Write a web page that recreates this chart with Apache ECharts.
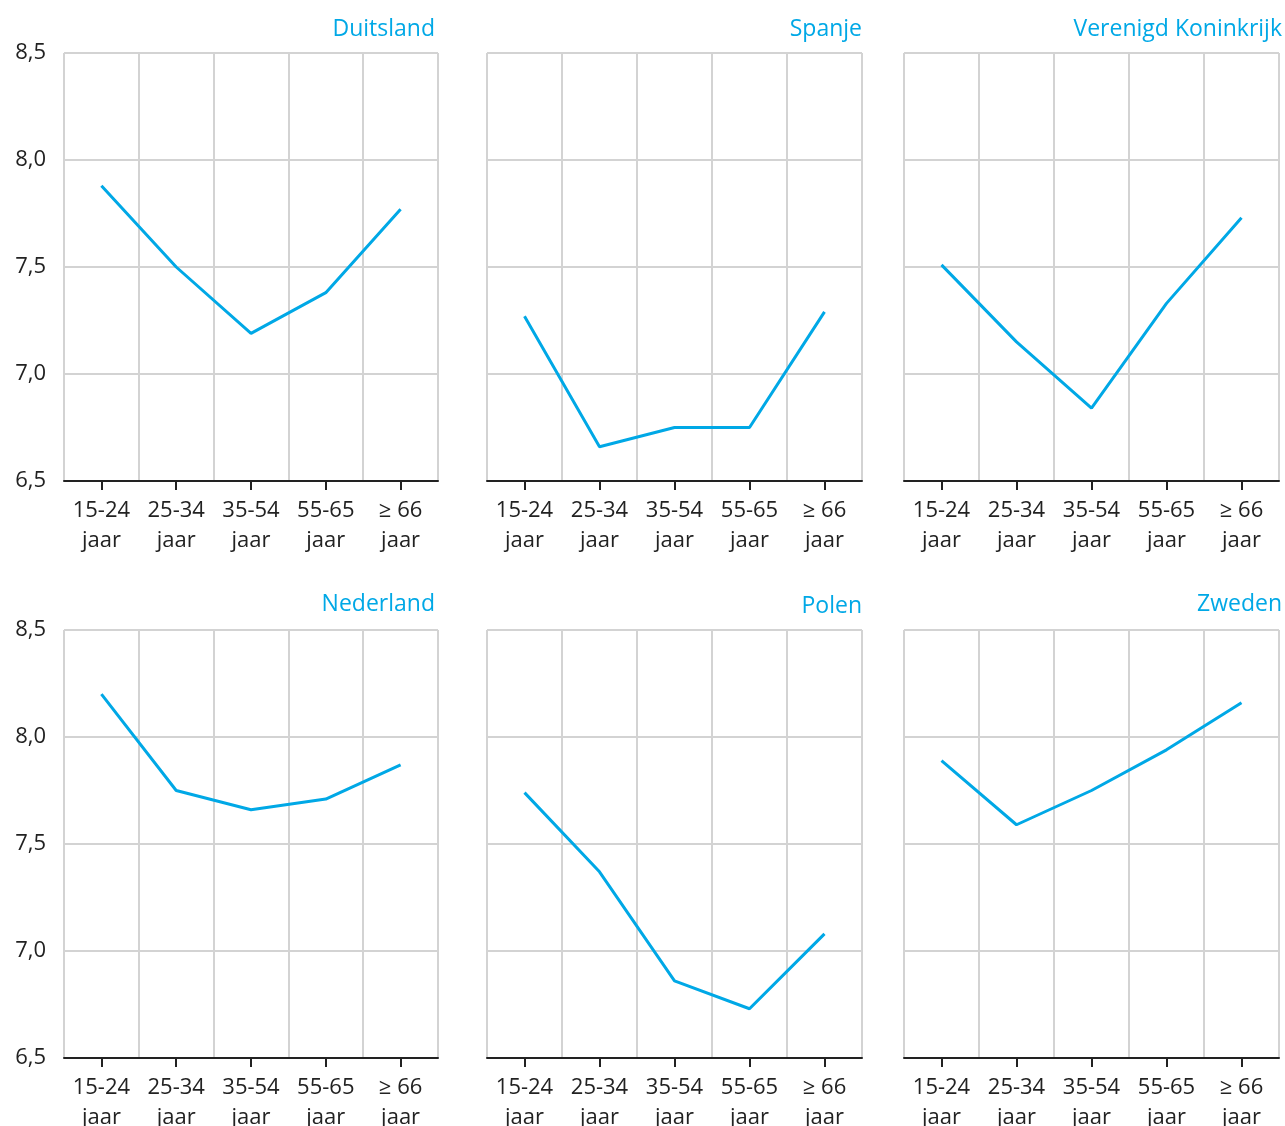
<!DOCTYPE html>
<html>
<head>
<meta charset="utf-8">
<script src="https://cdn.jsdelivr.net/npm/echarts@6/dist/echarts.min.js"></script>
<style>
  html, body { margin: 0; padding: 0; background: #fff; }
  #chart { width: 1285px; height: 1126px; }
</style>
</head>
<body>
<div id="chart"></div>
<script>
// leeftijdsgroepen
const categories = ["15-24\njaar", "25-34\njaar", "35-54\njaar", "55-65\njaar", "≥ 66\njaar"];
const countries = ["Duitsland", "Spanje", "Verenigd Koninkrijk", "Nederland", "Polen", "Zweden"];

const duitsland = [7.88, 7.50, 7.19, 7.38, 7.77];
const spanje = [7.27, 6.66, 6.75, 6.75, 7.29];
const verenigdKoninkrijk = [7.51, 7.15, 6.84, 7.33, 7.73];
const nederland = [8.20, 7.75, 7.66, 7.71, 7.87];
const polen = [7.74, 7.37, 6.86, 6.73, 7.08];
const zweden = [7.89, 7.59, 7.75, 7.94, 8.16];
const seriesData = [duitsland, spanje, verenigdKoninkrijk, nederland, polen, zweden];

const yMin = 6.5, yMax = 8.5, yStep = 0.5;

const blue = "#00a8e6";
const fontFamily = "'Open Sans', 'Noto Sans', sans-serif";

// paneelposities
const colLeft = [64, 487, 904];
const colWidth = [374, 375, 375];
const rowTop = [53, 630];
const rowHeight = 428;
const titleTop = [18, 593];
const titleEnd = [435, 862, 1282];

let chart = echarts.init(document.getElementById("chart"));

const grid = [], xAxis = [], yAxis = [], series = [], title = [];
countries.forEach(function (name, i) {
	const col = i % 3, row = Math.floor(i / 3);
	grid.push({
		left: colLeft[col],
		top: rowTop[row],
		width: colWidth[col],
		height: rowHeight,
		outerBoundsMode: "none",
		containLabel: false,
	});
	title.push({
		text: name,
		padding: 0,
		right: 1285 - titleEnd[col],
		top: titleTop[row] + (name === "Polen" ? 2 : 0),
		textStyle: { color: blue, fontSize: 23, fontWeight: "normal", fontFamily: fontFamily },
	});
	xAxis.push({
		type: "category",
		gridIndex: i,
		data: categories,
		boundaryGap: true,
		axisLine: { show: true, lineStyle: { color: "#222", width: 2 } },
		axisTick: { show: true, alignWithLabel: true, length: 9, lineStyle: { color: "#222", width: 2 } },
		axisLabel: {
			color: "#222",
			fontSize: 22,
			fontFamily: fontFamily,
			lineHeight: 30,
			margin: 15,
			interval: 0,
		},
		splitLine: { show: true, lineStyle: { color: "#d3d3d3", width: 2 } },
	});
	yAxis.push({
		type: "value",
		gridIndex: i,
		min: yMin,
		max: yMax,
		interval: yStep,
		axisLine: { show: false },
		axisTick: { show: false },
		axisLabel: {
			show: col === 0,
			color: "#222",
			fontSize: 22,
			fontFamily: fontFamily,
			margin: 18,
			formatter: function (v) { return v.toFixed(1).replace(".", ","); },
		},
		splitLine: { show: true, lineStyle: { color: "#d3d3d3", width: 2 } },
	});
	series.push({
		type: "line",
		xAxisIndex: i,
		yAxisIndex: i,
		data: seriesData[i],
		symbol: "none",
		lineStyle: { color: blue, width: 3 },
		animation: false,
	});
});

chart.setOption({
	animation: false,
	title: title,
	grid: grid,
	xAxis: xAxis,
	yAxis: yAxis,
	series: series,
});
</script>
</body>
</html>
